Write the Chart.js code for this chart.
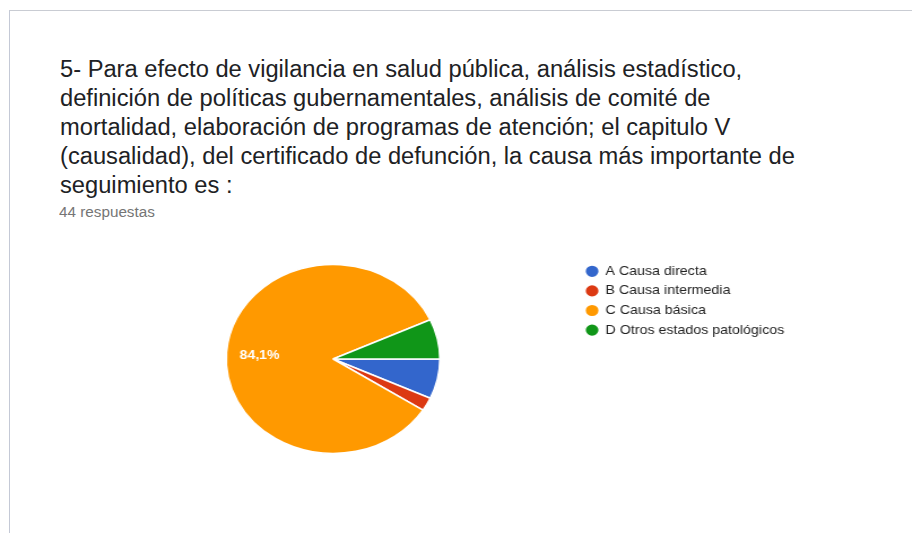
<!DOCTYPE html>
<html>
<head>
<meta charset="utf-8">
<script src="https://cdn.jsdelivr.net/npm/chart.js@4"></script>
<style>
  html, body { margin: 0; padding: 0; background: #fff; }
  body { width: 912px; height: 533px; position: relative; overflow: hidden; }
  #card { position: absolute; left: 9px; top: 10px; width: 920px; height: 540px;
          border-top: 1px solid #c9ccd3; border-left: 1px solid #c4c9d6; }
  #title { position: absolute; left: 60px; top: 55px; width: 800px;
           font-family: "Liberation Sans", Arial, sans-serif; font-size: 23px;
           line-height: 29px; color: #202124; transform-origin: 0 0; transform: scaleX(1.03); }
  #sub { position: absolute; left: 59px; top: 204px; transform-origin: 0 0; transform: scaleX(1.09);
         font-family: "Liberation Sans", Arial, sans-serif; font-size: 14px; color: #757575; }
  #wrap { position: absolute; left: 0; top: 258px; transform-origin: 0 0; transform: scaleX(1.13); }
</style>
</head>
<body>
<div id="card"></div>
<div id="title">5- Para efecto de vigilancia en salud pública, análisis estadístico,<br>definición de políticas gubernamentales, análisis de comité de<br>mortalidad, elaboración de programas de atención; el capitulo V<br>(causalidad), del certificado de defunción, la causa más importante de<br>seguimiento es :</div>
<div id="sub">44 respuestas</div>
<div id="wrap"><canvas id="c" width="704" height="206"></canvas></div>
<script>
const categories = ["A Causa directa", "B Causa intermedia", "C Causa básica", "D Otros estados patológicos"];
const counts = [3, 1, 37, 3];
const colors = ["#3366cc", "#dc3912", "#ff9900", "#109618"];

const sliceLabels = {
  id: 'sliceLabels',
  afterDatasetsDraw(chart) {
    const ctx = chart.ctx;
    const meta = chart.getDatasetMeta(0);
    const data = chart.data.datasets[0].data;
    const total = data.reduce((a, b) => a + b, 0);
    meta.data.forEach((arc, i) => {
      const frac = data[i] / total;
      if (frac < 0.1) return;
      const p = arc.getProps(['x', 'y', 'startAngle', 'endAngle', 'outerRadius'], true);
      const mid = (p.startAngle + p.endAngle) / 2;
      const r = p.outerRadius * 0.69;
      const txt = (frac * 100).toFixed(1).replace('.', ',') + '%';
      ctx.save();
      ctx.fillStyle = '#ffffff';
      ctx.font = 'bold 12.5px "Liberation Sans", Arial, sans-serif';
      ctx.textAlign = 'center';
      ctx.textBaseline = 'middle';
      ctx.fillText(txt, p.x + Math.cos(mid) * r, p.y + Math.sin(mid) * r + 1.5);
      ctx.restore();
    });
  }
};

new Chart(document.getElementById('c'), {
  type: 'pie',
  data: {
    labels: categories,
    datasets: [{
      data: counts,
      backgroundColor: colors,
      borderColor: '#ffffff',
      borderWidth: 1.5,
      radius: 94.5
    }]
  },
  options: {
    responsive: false,
    animation: false,
    rotation: 90,
    layout: { padding: { left: 78, bottom: 4 } },
    plugins: {
      tooltip: { enabled: false },
      legend: {
        position: 'right',
        align: 'start',
        labels: {
          usePointStyle: true,
          pointStyle: 'circle',
          boxWidth: 11,
          boxHeight: 9,
          padding: 7,
          color: '#222222',
          font: { family: '"Liberation Sans", Arial, sans-serif', size: 12.6 }
        }
      }
    }
  },
  plugins: [sliceLabels]
});
</script>
</body>
</html>
